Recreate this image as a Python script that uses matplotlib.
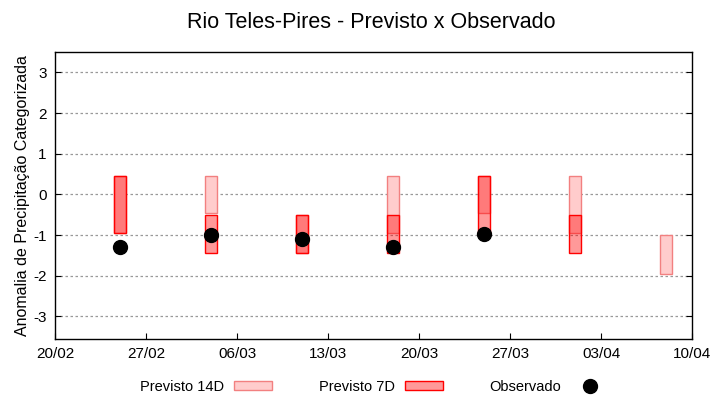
import matplotlib
matplotlib.use("Agg")
import matplotlib.pyplot as plt
import matplotlib.dates as mdates
from matplotlib.patches import Patch
from matplotlib.lines import Line2D
import numpy as np

plt.rcParams["font.family"] = ["Liberation Sans", "DejaVu Sans"]

# ── data ─────────────────────────────────────────────────────────────────────
dates_14d = np.array(["2021-02-25", "2021-03-04", "2021-03-11", "2021-03-18",
                      "2021-03-25", "2021-04-01", "2021-04-08"], dtype="datetime64[D]")
lo_14d = [-0.95, -0.45, -1.45, -0.95, -0.45, -0.95, -1.95]
hi_14d = [0.45, 0.45, -0.5, 0.45, 0.45, 0.45, -1.0]

dates_7d = np.array(["2021-02-25", "2021-03-04", "2021-03-11", "2021-03-18",
                     "2021-03-25", "2021-04-01"], dtype="datetime64[D]")
lo_7d = [-0.95, -1.45, -1.45, -1.45, -0.95, -1.45]
hi_7d = [0.45, -0.5, -0.5, -0.5, 0.45, -0.5]

dates_obs = np.array(["2021-02-25", "2021-03-04", "2021-03-11", "2021-03-18",
                      "2021-03-25"], dtype="datetime64[D]")
obs = [-1.3, -1.0, -1.1, -1.3, -0.98]

y_ticks = [-3, -2, -1, 0, 1, 2, 3]

# ── style ────────────────────────────────────────────────────────────────────
C14_FILL = "#ffcccc"
C14_EDGE = "#f28080"
C7_FILL = (1.0, 0.0, 0.0, 0.4)
C7_EDGE = "#ff0000"
BAR_W = 0.9

fig = plt.figure(figsize=(7.2, 4.0), dpi=100)
ax = fig.add_axes([0.0764, 0.153, 0.885, 0.717])

ax.bar(dates_14d, np.array(hi_14d) - np.array(lo_14d), bottom=lo_14d, width=BAR_W,
       facecolor=C14_FILL, edgecolor=C14_EDGE, linewidth=1.0, zorder=2)
ax.bar(dates_7d, np.array(hi_7d) - np.array(lo_7d), bottom=lo_7d, width=BAR_W,
       facecolor=C7_FILL, edgecolor=C7_EDGE, linewidth=1.0, zorder=3)
ax.plot(dates_obs, obs, "o", color="black", markersize=10, zorder=4)

ax.set_xlim(np.datetime64("2021-02-20"), np.datetime64("2021-04-10"))
ax.set_ylim(-3.55, 3.5)
ax.set_xticks(np.arange(np.datetime64("2021-02-20"), np.datetime64("2021-04-11"), 7))
ax.xaxis.set_major_formatter(mdates.DateFormatter("%d/%m"))
ax.set_yticks(y_ticks)
ax.set_yticklabels([str(v) for v in y_ticks])
ax.grid(axis="y", color="#999999", linestyle=(0, (2, 2)), linewidth=0.9)
ax.tick_params(axis="both", direction="in", labelsize=11, length=4, width=0.8, pad=6)
ax.tick_params(axis="y", right=True)
for s in ax.spines.values():
    s.set_linewidth(1.0)

ax.set_ylabel("Anomalia de Precipitação Categorizada", fontsize=11.5, labelpad=2)
fig.suptitle("Rio Teles-Pires - Previsto x Observado", fontsize=15.5, x=0.515, y=0.97)

handles = [
    Patch(facecolor=C14_FILL, edgecolor=C14_EDGE, linewidth=1.0),
    Patch(facecolor=C7_FILL, edgecolor=C7_EDGE, linewidth=1.0),
    Line2D([], [], marker="o", linestyle="none", color="black", markersize=10),
]
labels = ["Previsto 14D", "Previsto 7D", "Observado"]
fig.legend(handles, labels, loc="lower center", bbox_to_anchor=(0.52, -0.017), ncol=3,
           frameon=False, markerfirst=False, fontsize=10.5, handlelength=2.6,
           handleheight=0.5, columnspacing=3.2, handletextpad=0.7)

fig.savefig("out.png", dpi=100, facecolor="white")
